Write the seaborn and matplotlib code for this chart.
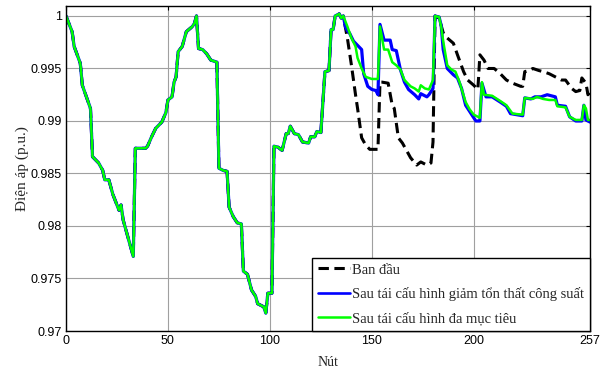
import numpy as np
import pandas as pd
import matplotlib
matplotlib.use("Agg")
import matplotlib.pyplot as plt
import seaborn as sns

# ---------------- data ----------------
# shared part of the profile (all three configurations coincide up to node 136)
common_nodes = [0, 3, 4, 7, 8, 10, 12, 13, 16, 18, 19, 21, 23, 25, 26, 27, 28, 29, 33,
                34, 39, 40, 42, 44, 47, 49, 50, 52, 53, 54, 55, 57, 59, 62, 63, 64,
                65, 67, 69, 71, 74, 75, 77, 79, 80, 82, 84, 86, 87, 89, 91, 93, 94,
                97, 98, 99, 101, 102, 104, 106, 108, 109, 110, 112, 114, 116, 119,
                120, 122, 123, 125, 127, 129, 130, 131, 132, 134, 135, 136]
common_v = [1.0, 0.9985, 0.9971, 0.9955, 0.9934, 0.9923, 0.9912, 0.9866, 0.9860, 0.9853,
            0.9844, 0.9844, 0.9830, 0.9820, 0.9815, 0.9820, 0.9806, 0.9799, 0.9771,
            0.9874, 0.9874, 0.9876, 0.9885, 0.9893, 0.9899, 0.9908, 0.9920, 0.9923,
            0.9937, 0.9942, 0.9966, 0.9971, 0.9985, 0.9990, 0.9993, 1.0,
            0.9969, 0.9968, 0.9964, 0.9958, 0.9956, 0.9855, 0.9853, 0.9852, 0.9818,
            0.9809, 0.9803, 0.9802, 0.9757, 0.9754, 0.9739, 0.9733, 0.9726,
            0.9723, 0.9717, 0.9736, 0.9736, 0.9876, 0.9875, 0.9872, 0.9888, 0.9888,
            0.9895, 0.9888, 0.9887, 0.9880, 0.9879,
            0.9885, 0.9885, 0.9890, 0.9889, 0.9947, 0.9948, 0.9987, 0.9987, 1.0,
            1.0002, 0.9998, 1.0]

# "Ban đầu" (initial) after node 136
base_nodes = [138, 140, 142, 143, 145, 147, 149, 153, 154, 155, 158, 160, 161, 163, 165,
              169, 172, 174, 177, 179, 180, 181, 183, 185, 187, 190, 192, 195, 197, 200,
              202, 203, 205, 207, 210, 213, 216, 219, 223, 224, 225, 227, 229, 232, 234,
              237, 240, 243, 245, 248, 250, 252, 253, 255, 256, 257]
base_v = [0.9979, 0.9953, 0.9925, 0.9912, 0.9884, 0.9877, 0.9873, 0.9873, 0.9937, 0.9937,
          0.9936, 0.9915, 0.9912, 0.9884, 0.9879, 0.9865, 0.9858, 0.9861, 0.9858,
          0.9860, 0.9880, 1.0, 0.9998, 0.9984, 0.9979, 0.9974, 0.9963, 0.9947, 0.9939,
          0.9934, 0.9930, 0.9963, 0.9958, 0.9950, 0.9950, 0.9945, 0.9939, 0.9936,
          0.9933, 0.9933, 0.9947, 0.9948, 0.9950, 0.9948, 0.9947, 0.9945, 0.9942,
          0.9939, 0.9939, 0.9931, 0.9928, 0.9929, 0.9941, 0.9936, 0.9925, 0.9928]

# "Sau tái cấu hình giảm tổn thất công suất" after node 136
loss_nodes = [137, 138, 139, 141, 143, 145, 146, 148, 150, 152, 153, 154, 156, 159, 160,
              162, 164, 166, 168, 171, 173, 174, 177, 178, 180, 181, 183, 184, 185, 187,
              190, 192, 194, 196, 198, 201, 203, 204, 206, 209, 213, 216, 218, 221, 224,
              225, 228, 230, 233, 236, 240, 241, 245, 247, 250, 253, 254, 255, 257]
loss_v = [0.9990, 0.9986, 0.9984, 0.9976, 0.9972, 0.9968, 0.9945, 0.9933, 0.9930, 0.9929,
          0.9925, 0.9992, 0.9977, 0.9977, 0.9968, 0.9967, 0.9949, 0.9937, 0.9930,
          0.9925, 0.9921, 0.9926, 0.9923, 0.9925, 0.9931, 1.0, 0.9999, 0.9991, 0.9968,
          0.9950, 0.9944, 0.9941, 0.9931, 0.9915, 0.9909, 0.9900, 0.9900, 0.9936,
          0.9923, 0.9923, 0.9918, 0.9914, 0.9907, 0.9906, 0.9905, 0.9922, 0.9921,
          0.9923, 0.9923, 0.9925, 0.9923, 0.9915, 0.9914, 0.9904, 0.9900, 0.9900,
          0.9915, 0.9901, 0.9899]

# "Sau tái cấu hình đa mục tiêu" after node 136
multi_nodes = [137, 138, 140, 142, 143, 145, 147, 150, 153, 154, 156, 158, 160, 162, 164,
               166, 169, 171, 173, 174, 176, 178, 180, 181, 183, 184, 185, 187, 189, 191,
               193, 196, 198, 200, 203, 204, 205, 209, 213, 216, 219, 224, 225, 229, 231,
               234, 237, 240, 241, 245, 247, 250, 253, 254, 255, 256, 257]
multi_v = [0.9995, 0.9990, 0.9979, 0.9971, 0.9960, 0.9950, 0.9942, 0.9940, 0.9940, 0.9990,
           0.9968, 0.9968, 0.9956, 0.9953, 0.9949, 0.9939, 0.9933, 0.9931, 0.9928,
           0.9934, 0.9931, 0.9930, 0.9939, 1.0, 0.9999, 0.9990, 0.9976, 0.9953, 0.9949,
           0.9947, 0.9937, 0.9918, 0.9911, 0.9906, 0.9903, 0.9937, 0.9925, 0.9924,
           0.9919, 0.9915, 0.9907, 0.9906, 0.9922, 0.9921, 0.9923, 0.9921, 0.9920,
           0.9920, 0.9914, 0.9913, 0.9904, 0.9901, 0.9901, 0.9915, 0.9912, 0.9901, 0.9901]

labels = ["Ban đầu", "Sau tái cấu hình giảm tổn thất công suất",
          "Sau tái cấu hình đa mục tiêu"]
xticks = [0, 50, 100, 150, 200, 257]
yticks = [0.97, 0.975, 0.98, 0.985, 0.99, 0.995, 1.0]
yticklabels = ["0.97", "0.975", "0.98", "0.985", "0.99", "0.995", "1"]

# ---------------- figure ----------------
sns.set_style("white")
plt.rcParams["font.family"] = ["Liberation Sans", "DejaVu Sans"]

fig = plt.figure(figsize=(6.03, 3.71), dpi=100)
ax = fig.add_axes([66 / 603, 1 - 331 / 371, (590 - 66) / 603, (331 - 6) / 371])

series = [
    (common_nodes + base_nodes, common_v + base_v, "black", (0, (3.4, 1.8)), 2.2),
    (common_nodes + loss_nodes, common_v + loss_v, "#0000ff", "-", 2.3),
    (common_nodes + multi_nodes, common_v + multi_v, "#00ff00", "-", 1.8),
]
for (xs, ys, col, ls, lw), lab in zip(series, labels):
    df = pd.DataFrame({"node": xs, "v": ys})
    sns.lineplot(data=df, x="node", y="v", ax=ax, color=col, linestyle=ls,
                 linewidth=lw, label=lab, estimator=None, sort=True)

ax.set_xlim(0, 257)
ax.set_ylim(0.97, 1.00095)
ax.set_xticks(xticks)
ax.set_xticklabels([str(t) for t in xticks])
ax.set_yticks(yticks)
ax.set_yticklabels(yticklabels)
ax.tick_params(direction="in", top=True, right=True, length=3, width=0.8,
               labelsize=9, pad=3, colors="black")
ax.grid(True, color="#a0a0a0", linewidth=0.8)
for s in ax.spines.values():
    s.set_visible(True)
    s.set_color("black")
    s.set_linewidth(1.0)

ax.set_xlabel("Nút", family=["Liberation Serif"], fontsize=10, labelpad=6)
ax.set_ylabel("Điện áp (p.u.)", family=["Liberation Serif"], fontsize=11, labelpad=1)

leg = ax.legend(loc="lower right", borderaxespad=0, fancybox=False, framealpha=1,
                edgecolor="black", prop={"family": "Liberation Serif", "size": 10.5},
                handlelength=2.2, handletextpad=0.15, labelspacing=0.72,
                borderpad=0.4)
leg.get_frame().set_linewidth(1.0)
leg.get_lines()[1].set_linewidth(1.9)

fig.savefig("out.png", dpi=100)
